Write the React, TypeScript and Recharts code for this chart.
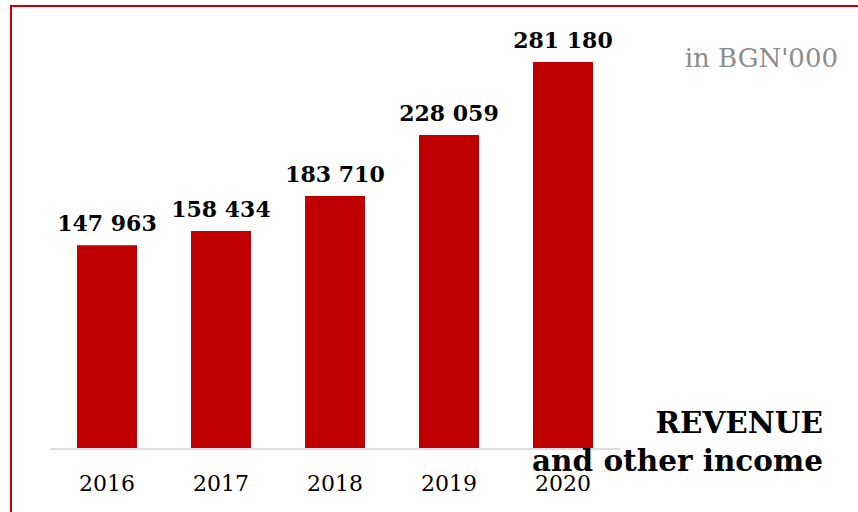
import { BarChart, Bar, XAxis, YAxis, LabelList } from 'recharts'

const years = ['2016', '2017', '2018', '2019', '2020']
const revenue = [147963, 158434, 183710, 228059, 281180]

const data = years.map((year, i) => ({ year, revenue: revenue[i] }))

const serif = "'DejaVu Serif', Georgia, serif"

const formatValue = (v: any) => {
  const n = Number(v)
  const thousands = Math.floor(n / 1000)
  const rest = String(n % 1000).padStart(3, '0')
  return `${thousands} ${rest}`
}

// plain <text> so the label is not wrapped to the bar width
const ValueLabel = (props: any) => {
  const { x, y, width, value } = props
  return (
    <text
      x={Number(x) + Number(width) / 2}
      y={Number(y) - 14}
      textAnchor="middle"
      fill="#000"
      fontSize={22}
      fontWeight="bold"
      fontFamily={serif}
    >
      {formatValue(value)}
    </text>
  )
}

export default function App() {
  return (
    <div style={{ position: 'absolute', left: 0, top: 0, width: 858, height: 512, background: '#fff', overflow: 'hidden' }}>
      <div
        style={{
          position: 'absolute',
          left: 10,
          top: 5,
          width: 860,
          height: 520,
          borderTop: '2px solid #c80000',
          borderLeft: '2px solid #c80000',
        }}
      />
      <BarChart
        width={858}
        height={512}
        data={data}
        margin={{ top: 36, right: 238, bottom: 0, left: 50 }}
        barCategoryGap={27}
      >
        <XAxis
          dataKey="year"
          height={63}
          axisLine={{ stroke: '#d9dde3', strokeWidth: 2 }}
          tickLine={false}
          tick={{ fill: '#000', fontSize: 22, fontFamily: serif }}
          tickMargin={20}
        />
        <YAxis hide domain={[0, 300000]} />
        <Bar dataKey="revenue" fill="#c00000" isAnimationActive={false}>
          <LabelList dataKey="revenue" content={ValueLabel} />
        </Bar>
      </BarChart>
      <div
        style={{
          position: 'absolute',
          right: 20,
          top: 43,
          fontFamily: serif,
          fontSize: 26,
          color: '#8c8c8c',
          whiteSpace: 'nowrap',
        }}
      >
        in BGN'000
      </div>
      <div
        style={{
          position: 'absolute',
          right: 35,
          top: 404,
          fontFamily: serif,
          fontSize: 29.5,
          fontWeight: 'bold',
          color: '#000',
          textAlign: 'right',
          lineHeight: '38px',
          whiteSpace: 'nowrap',
        }}
      >
        REVENUE
        <br />
        and other income
      </div>
    </div>
  )
}
